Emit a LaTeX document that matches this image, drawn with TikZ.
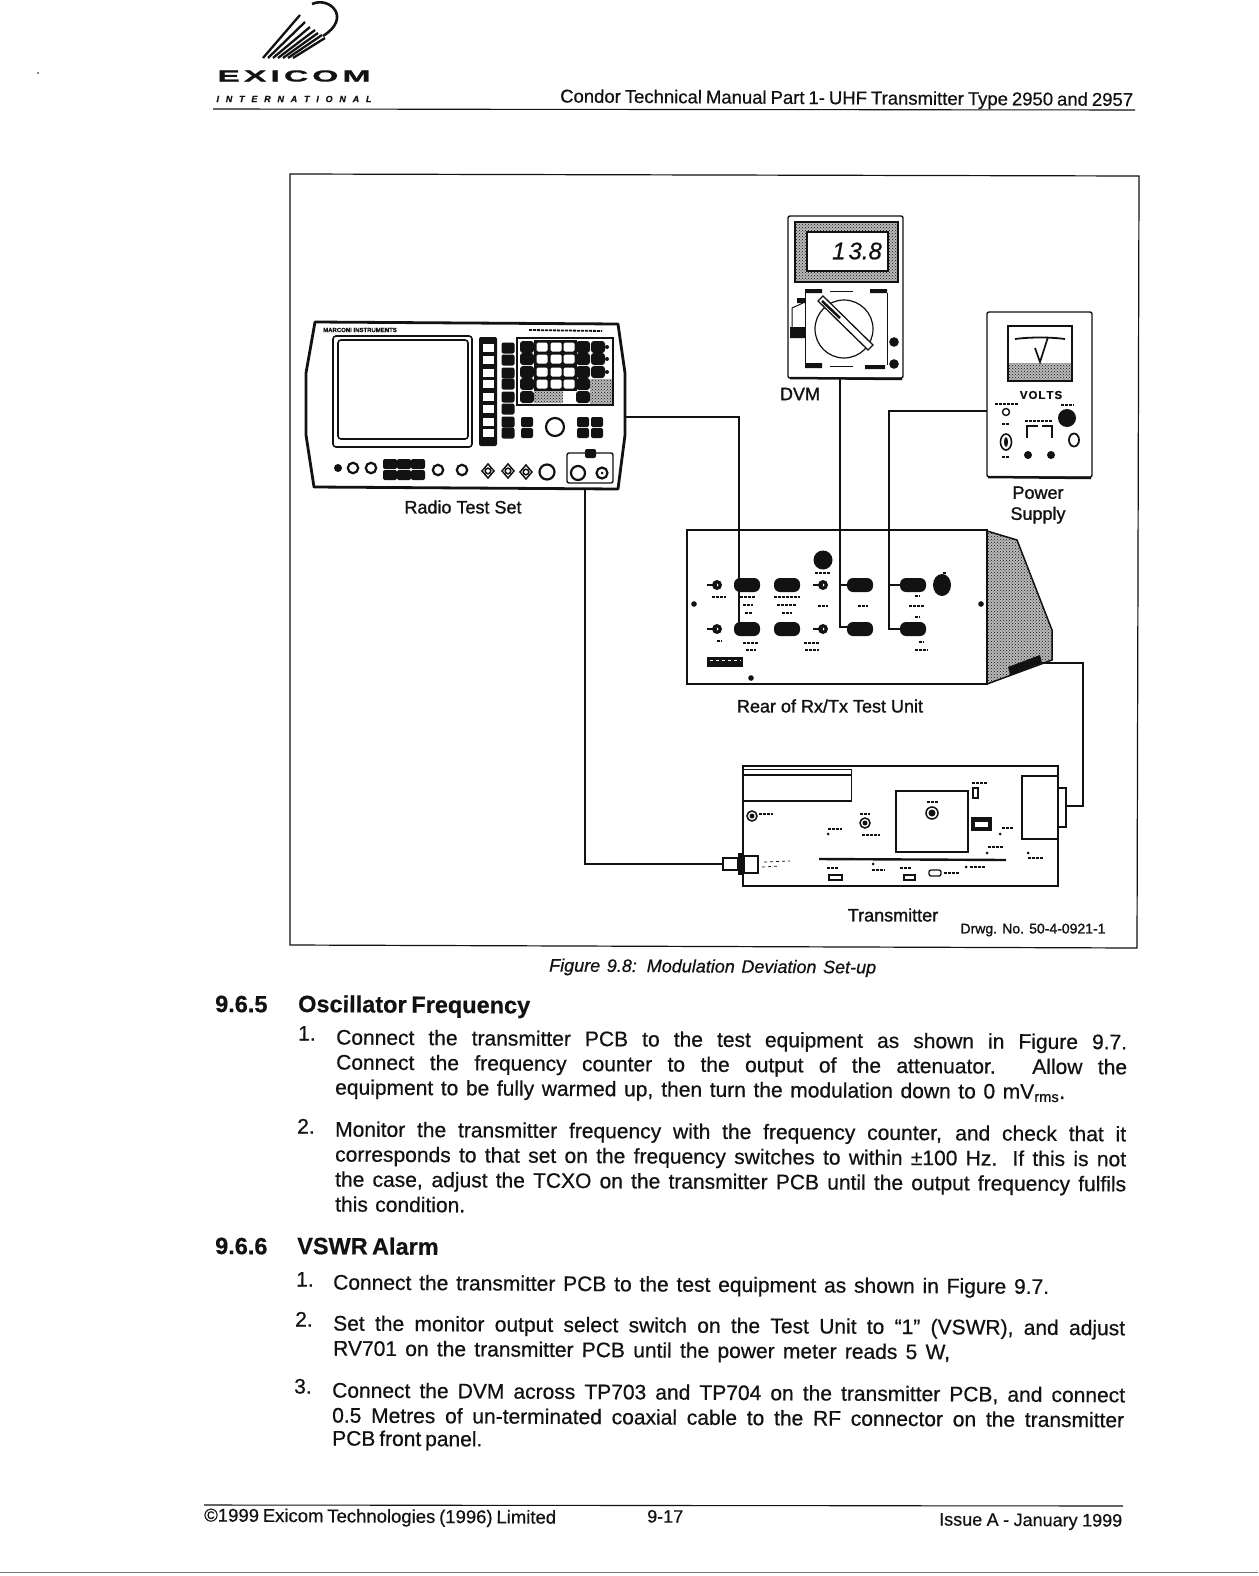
\documentclass[tikz,border=0pt]{standalone}
\usepackage{fontspec}
\usepackage{xcolor}
\usepackage{tikz}
\usetikzlibrary{patterns}
\setmainfont{Liberation Sans}[FakeBold=0.6]
\newfontface\labelface{Liberation Sans}[FakeBold=1.3]
\definecolor{ink}{RGB}{18,18,18}
\definecolor{scanline}{RGB}{120,120,120}
\newcommand{\fitline}[2]{\makebox[#1pt][s]{#2}}
\newcommand{\widechar}[1]{\scalebox{2.1}[1]{#1}}
\tikzset{
  bodyline/.style={anchor=west,inner sep=0pt,yshift=-1.5pt,text height=15pt,text depth=5pt,rotate=-0.35,text=ink,font=\fontsize{21}{21}\selectfont},
  headline/.style={anchor=west,inner sep=0pt,yshift=-1.5pt,text height=16pt,text depth=5pt,rotate=-0.35,text=ink,font=\fontsize{23.5}{23.5}\selectfont\bfseries},
  partlabel/.style={inner sep=0pt,text=ink,font=\labelface\fontsize{18}{18}\selectfont},
  cable/.style={line width=1.6pt,ink},
  smudge/.style={line width=2.2pt,ink,dash pattern=on 3pt off 1pt},
  dither/.style={preaction={fill=gray!55},pattern=crosshatch dots,pattern color=ink}
}
\begin{document}
\begin{tikzpicture}[x=1pt,y=-1pt]
\useasboundingbox (0,0) rectangle (1258,1576);
\fill[white] (0,0) rectangle (1258,1576);
% letterhead
\foreach \xa/\xb/\yb in {263/300/15,268/305/22,273/310/27,278/315/30,283/318/33,288/322/35,293/325/38}
  \draw[line width=2.3pt,ink] (\xa,58) -- (\xb,\yb);
\draw[line width=2.6pt,ink] (312,4) .. controls (330,-4) and (352,18) .. (323,36);
\node[inner sep=0pt,text=ink,font=\fontsize{16}{16}\selectfont\bfseries] (logoname) at (294,76) {\fitline{153}{\widechar{E}\hfil\widechar{X}\hfil\widechar{I}\hfil\widechar{C}\hfil\widechar{O}\hfil\widechar{M}}};
\node[inner sep=0pt,text=ink,font=\fontsize{9}{9}\selectfont\bfseries\itshape] (logosub) at (294,99) {\fitline{155}{I\hfil N\hfil T\hfil E\hfil R\hfil N\hfil A\hfil T\hfil I\hfil O\hfil N\hfil A\hfil L}};
\fill[ink] (38,73) circle (0.8);
\node[bodyline,font=\fontsize{18.5}{18.5}\selectfont] (pagehead) at (560,96) {\fitline{573}{Condor Technical Manual Part 1- UHF Transmitter Type 2950 and 2957}};
\draw[line width=1.1pt,ink] (213,109) -- (1135,110);
\draw[line width=1.2pt,ink] (290,174) -- (1139,176) -- (1137,948) -- (290,945) -- cycle;
% radio test set
\draw[line width=2.8pt,ink,line join=round] (315,322) -- (618,324) -- (625,373) -- (625,435) -- (618,489) -- (314,487) -- (306,435) -- (306,373) -- cycle;
\node[inner sep=0pt,text=ink,font=\fontsize{6}{6}\selectfont\bfseries] (rtsbrand) at (360,330) {MARCONI INSTRUMENTS};
\draw[smudge,line width=1.8pt] (529,330) -- (602,331);
\draw[line width=1.6pt,ink,rounded corners=3pt] (333,336) rectangle (472,447);
\draw[line width=1.6pt,ink,rounded corners=3pt] (338,340) rectangle (468,439);
\fill[ink,rounded corners=2pt] (479,337) rectangle (497,446);
\foreach \y in {348,360,373,384,397,409,422,433} {
  \fill[white] (483,\y-4) rectangle (494,\y+4);
  \fill[ink,rounded corners=2pt] (501.5,\y-5.5) rectangle (514.5,\y+5.5);
}
\draw[line width=1.5pt,ink] (517,338) rectangle (613,405);
\fill[ink] (534,340) rectangle (577,391);
\fill[dither] (534,391) rectangle (563,403);
\fill[dither] (590,379) rectangle (612,404);
\foreach \x in {527,583,598} \foreach \y in {347,359,372}
  \fill[ink,rounded corners=3pt] (\x-7,\y-6) rectangle (\x+7,\y+6);
\foreach \x in {527,583} \foreach \y in {384,397}
  \fill[ink,rounded corners=3pt] (\x-7,\y-6) rectangle (\x+7,\y+6);
\foreach \x in {542,556,569} \foreach \y in {347,359,372}
  \fill[white,rounded corners=1.5pt] (\x-5.5,\y-4.5) rectangle (\x+5.5,\y+4.5);
\foreach \x in {542,556,569}
  \fill[white,rounded corners=1.5pt] (\x-5.5,379.5) rectangle (\x+5.5,388.5);
\fill[white,rounded corners=1.5pt] (564,392) rectangle (575,402);
\fill[ink] (607,347) circle (2) (607,359) circle (2) (607,372) circle (2);
\foreach \x/\y in {527/422,527/433,583/422,597/422,583/433,597/433}
  \fill[ink,rounded corners=2pt] (\x-6,\y-5) rectangle (\x+6,\y+5);
\draw[line width=2.2pt,ink] (555,427) circle (9);
\fill[ink] (338,468) circle (4);
\foreach \x/\y in {353/468,371/468,438/470,462/470}
  \draw[line width=2.2pt,ink] (\x,\y) circle (5.2);
\foreach \x in {390,404,418} \foreach \y in {464,475}
  \fill[ink,rounded corners=2pt] (\x-7,\y-5) rectangle (\x+7,\y+5);
\foreach \x/\y in {488/471,508/471,526/472} {
  \draw[line width=1.5pt,ink] (\x-6,\y) -- (\x,\y-7) -- (\x+6,\y) -- (\x,\y+7) -- cycle;
  \draw[line width=1.5pt,ink] (\x,\y) circle (2.8);
}
\draw[line width=2.2pt,ink] (547,472) circle (7.5);
\draw[line width=1.4pt,ink,rounded corners=2pt] (567,453) rectangle (613,483);
\draw[line width=2.2pt,ink] (578,473) circle (7);
\draw[line width=2.2pt,ink] (602,473) circle (5.5);
\fill[ink] (602,473) circle (1.5);
\fill[ink,rounded corners=2pt] (585,449) rectangle (596,458);
\node[partlabel] (rtslabel) at (463,507) {Radio Test Set};
% dvm
\draw[line width=1.4pt,ink,rounded corners=2pt] (788,216) rectangle (903,378);
\draw[line width=2.5pt,ink] (790,378) -- (902,379);
\draw[line width=1.2pt,ink,dither] (795,222) rectangle (898,282);
\fill[white] (807,232) rectangle (888,271);
\draw[line width=1.4pt,ink] (807,232) rectangle (888,271);
\node[inner sep=0pt,text=ink,font=\fontsize{24}{24}\selectfont\itshape] (dvmread) at (857,251) {1\hspace{3pt}3.8};
\draw[line width=1pt,ink] (805,293) -- (805,365) (887,293) -- (887,365) (830,291) -- (853,291) (830,366) -- (853,366);
\fill[ink] (805,289) rectangle (822,293) (870,289) rectangle (887,293) (805,363) rectangle (822,368) (865,365) rectangle (885,369);
\draw[line width=1.2pt,ink] (844,329) circle (29);
\draw[line width=1.3pt,ink,fill=white] (818,301) -- (823,296) -- (873,345) -- (868,350) -- cycle;
\draw[line width=2.5pt,ink] (822,301) -- (840,318);
\draw[line width=1pt,ink] (792,338) -- (792,308) -- (803,303);
\fill[ink] (797,298) rectangle (805,303) (790,327) rectangle (805,338);
\fill[ink] (894,342) circle (4.8) (894,364) circle (4.8);
\node[partlabel] (dvmlabel) at (800,394) {DVM};
% power supply
\draw[line width=1.4pt,ink,rounded corners=2pt] (987,312) rectangle (1092,477);
\draw[line width=2.5pt,ink] (988,477) -- (1091,478);
\fill[dither] (1008,363) rectangle (1072,381);
\draw[line width=1.2pt,ink] (1008,326) rectangle (1072,381);
\draw[line width=1.8pt,ink] (1015,339) .. controls (1030,337) and (1050,337) .. (1065,339);
\draw[line width=1.7pt,ink] (1035,348) -- (1040,362) -- (1048,337);
\node[inner sep=0pt,text=ink,font=\fontsize{11.5}{11.5}\selectfont\bfseries] (psvolts) at (1041,395) {V\hspace{1pt}O\hspace{1pt}L\hspace{1pt}T\hspace{1pt}S};
\draw[smudge] (995,404) -- (1018,404) (1002,424) -- (1010,424) (1002,457) -- (1010,457) (1025,421) -- (1052,421) (1061,405) -- (1074,405);
\draw[line width=1.4pt,ink] (1006,412) circle (3.5);
\draw[line width=1.6pt,ink] (1006,442) ellipse (5.5 and 8);
\fill[ink] (1006,442) ellipse (2 and 5);
\fill[ink] (1067,418) circle (9);
\draw[line width=1.8pt,ink] (1074,440) ellipse (5 and 6.5);
\draw[line width=1.2pt,ink] (1027,438) -- (1027,426) -- (1038,426) (1042,426) -- (1052,426) -- (1052,438);
\fill[ink] (1028,455) circle (4) (1051,455) circle (4);
\node[partlabel,align=center,font=\labelface\fontsize{18}{21}\selectfont] (pslabel) at (1038,505) {Power\\Supply};
% rear of test unit
\draw[line width=1.5pt,dither,draw=ink] (987,531) -- (1017,540) -- (1052,630) -- (1052,660) -- (987,684) -- cycle;
\draw[line width=1.5pt,ink,fill=white] (687,530) rectangle (987,684);
\fill[ink] (1008,667) -- (1040,655) -- (1042,663) -- (1010,675) -- cycle;
\foreach \x in {747,787,860,913} \foreach \y in {585,629}
  \fill[ink,rounded corners=6pt] (\x-13,\y-7) rectangle (\x+13,\y+7);
\fill[ink] (823,560) circle (9.5);
\fill[ink] (942,585) ellipse (9 and 11);
\foreach \x/\y in {717/585,717/629,823/585,823/629} {
  \fill[ink] (\x,\y) circle (5);
  \fill[white] (\x,\y) circle (1.5);
  \draw[line width=2.5pt,ink] (\x-10,\y) -- (\x,\y);
}
\fill[ink] (694,604) circle (2.8) (981,604) circle (2.8) (751,678) circle (2.8);
\fill[ink] (707,657) rectangle (743,667);
\draw[line width=1pt,white,dashed] (710,660) -- (741,660);
\foreach \x/\y/\w in {719/597/14,748/597/16,748/605/10,748/613/7,787/597/26,787/605/20,787/613/10,823/573/16,823/606/10,863/606/10,917/596/5,917/606/16,917/617/5,719/641/5,751/643/16,751/650/10,812/643/16,812/650/14,921/642/5,921/650/13,945/573/4}
  \draw[smudge] (\x-\w/2,\y) -- (\x+\w/2,\y);
\node[partlabel] (unitlabel) at (830,706) {Rear of Rx/Tx Test Unit};
% transmitter
\draw[line width=1.4pt,ink] (743,766) rectangle (1058,886);
\draw[line width=1pt,ink] (743,769) -- (851,769) -- (851,802);
\draw[line width=1.6pt,ink] (743,775) -- (851,775) (743,801) -- (851,801);
\draw[line width=1.3pt,ink] (896,791) rectangle (968,852);
\draw[line width=1.3pt,ink] (1022,776) rectangle (1058,839);
\draw[line width=1.3pt,ink] (1058,788) rectangle (1066,827);
\draw[line width=2.4pt,ink] (819,859) -- (1006,860);
\draw[line width=1.5pt,ink] (723,858) rectangle (738,870);
\fill[ink] (738,853) rectangle (744,875);
\draw[line width=1.5pt,ink] (744,856) rectangle (758,873);
\draw[line width=0.7pt,ink,dashed] (764,862) -- (790,861) (762,867) -- (780,866);
\foreach \x/\y/\r in {752/816/5,865/823/5,932/813/6} {
  \draw[line width=1.5pt,ink] (\x,\y) circle (\r);
  \fill[ink] (\x,\y) circle (\r-2.5);
}
\draw[line width=1.2pt,ink] (973,788) rectangle (978,798);
\fill[ink] (971,817) rectangle (992,831);
\fill[white] (975,822) rectangle (988,827);
\draw[line width=1.3pt,ink] (829,875) rectangle (842,880);
\draw[line width=1.3pt,ink] (904,875) rectangle (915,880);
\draw[line width=1.3pt,ink,rounded corners=2pt] (929,870) rectangle (941,876);
\foreach \x/\y/\w in {766/814/14,835/829/14,865/814/10,871/835/18,933/802/12,980/783/16,1008/828/12,995/847/15,1035/858/15,878/870/13,833/868/12,906/868/12,951/873/15,977/867/15}
  \draw[smudge,line width=1.8pt] (\x-\w/2,\y) -- (\x+\w/2,\y);
\foreach \x/\y in {828/834,873/864,966/867,1000/834,987/853,1028/853}
  \fill[ink] (\x,\y) circle (1.5);
\node[partlabel] (txlabel) at (893,915) {Transmitter};
\node[partlabel,font=\labelface\fontsize{14}{14}\selectfont] (drawingno) at (1033,930) {Drwg. No. 50-4-0921-1};
% connections
\coordinate (rtsaudio) at (625,417);
\coordinate (rtsrf) at (585,490);
\coordinate (unitaudio) at (739,625);
\coordinate (txrf) at (723,864);
\coordinate (dvmout) at (840,378);
\coordinate (unitdvma) at (848,585);
\coordinate (unitdvmb) at (848,627);
\coordinate (psout) at (987,411);
\coordinate (psbend) at (889,411);
\coordinate (unitpsa) at (900,585);
\coordinate (unitpsb) at (900,629);
\coordinate (unitport) at (1042,663);
\coordinate (txbend) at (1083,735);
\coordinate (txport) at (1066,806);
\draw[cable] (rtsaudio) -| (unitaudio);
\draw[cable] (rtsrf) |- (txrf);
\draw[cable] (dvmout) |- (unitdvmb);
\draw[cable] (dvmout |- unitdvma) -- (unitdvma);
\draw[cable] (psout) -- (psbend) |- (unitpsb);
\draw[cable] (psbend |- unitpsa) -- (unitpsa);
\draw[cable] (unitport) -| (txbend) |- (txport);
% page text
\node[bodyline,font=\fontsize{18}{18}\selectfont\itshape] (figcaption) at (549,965) {\fitline{327}{Figure 9.8: Modulation Deviation Set-up}};
\node[headline] (secA) at (215,1005) {9.6.5};
\node[headline] (secAtitle) at (298,1005) {\fitline{232}{Oscillator Frequency}};
\node[bodyline] (itemAa) at (298,1034) {1.};
\node[bodyline] (lineAa) at (336,1038) {\fitline{791}{Connect the transmitter PCB to the test equipment as shown in Figure 9.7.}};
\node[bodyline] (lineAb) at (336,1063) {\fitline{791}{Connect the frequency counter to the output of the attenuator. Allow the}};
\node[bodyline] (lineAc) at (335,1088) {\fitline{730}{equipment to be fully warmed up, then turn the modulation down to 0 mV\textsubscript{rms}.}};
\node[bodyline] (itemAb) at (297,1127) {2.};
\node[bodyline] (lineAd) at (335,1130) {\fitline{791}{Monitor the transmitter frequency with the frequency counter, and check that it}};
\node[bodyline] (lineAe) at (335,1155) {\fitline{791}{corresponds to that set on the frequency switches to within ±100 Hz. If this is not}};
\node[bodyline] (lineAf) at (335,1180) {\fitline{791}{the case, adjust the TCXO on the transmitter PCB until the output frequency fulfils}};
\node[bodyline] (lineAg) at (335,1205) {\fitline{130}{this condition.}};
\node[headline] (secB) at (215,1247) {9.6.6};
\node[headline] (secBtitle) at (297,1247) {\fitline{141}{VSWR Alarm}};
\node[bodyline] (itemBa) at (296,1280) {1.};
\node[bodyline] (lineBa) at (333,1283) {\fitline{716}{Connect the transmitter PCB to the test equipment as shown in Figure 9.7.}};
\node[bodyline] (itemBb) at (295,1320) {2.};
\node[bodyline] (lineBb) at (333,1324) {\fitline{792}{Set the monitor output select switch on the Test Unit to “1” (VSWR), and adjust}};
\node[bodyline] (lineBc) at (333,1349) {\fitline{617}{RV701 on the transmitter PCB until the power meter reads 5 W,}};
\node[bodyline] (itemBc) at (294,1387) {3.};
\node[bodyline] (lineBd) at (332,1391) {\fitline{793}{Connect the DVM across TP703 and TP704 on the transmitter PCB, and connect}};
\node[bodyline] (lineBe) at (332,1416) {\fitline{792}{0.5 Metres of un-terminated coaxial cable to the RF connector on the transmitter}};
\node[bodyline] (lineBf) at (332,1439) {\fitline{132}{PCB front panel.}};
% footer
\draw[line width=1.1pt,ink] (204,1505) -- (1123,1506);
\node[bodyline,font=\fontsize{18.5}{18.5}\selectfont] (footleft) at (204,1515) {\fitline{352}{©1999 Exicom Technologies (1996) Limited}};
\node[bodyline,font=\fontsize{18}{18}\selectfont] (footmid) at (647,1516) {9-17};
\node[bodyline,font=\fontsize{18}{18}\selectfont] (footright) at (939,1519) {\fitline{183}{Issue A - January 1999}};
\draw[line width=1pt,scanline] (0,1572) -- (1258,1572);
\end{tikzpicture}
\end{document}
